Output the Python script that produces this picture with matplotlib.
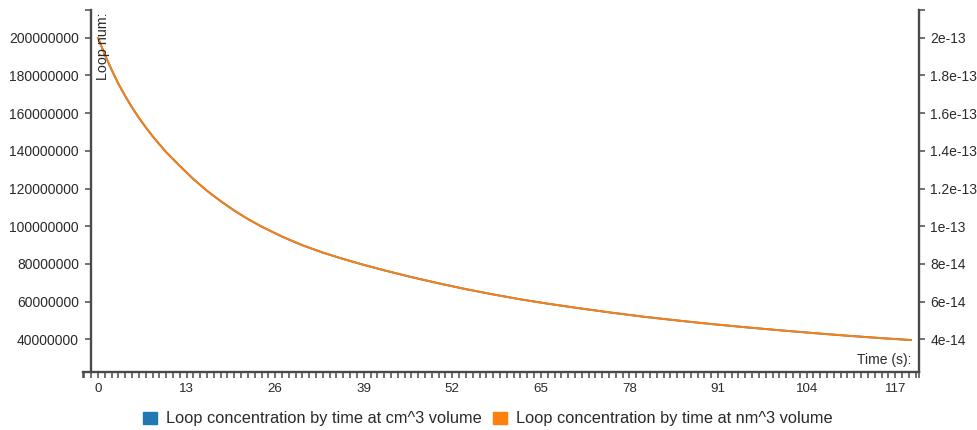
import matplotlib
matplotlib.use("Agg")
import matplotlib.pyplot as plt
from matplotlib.patches import Rectangle
from matplotlib.ticker import FixedLocator, FixedFormatter

# ---- data -------------------------------------------------------------
time_s = [0, 1, 2, 3, 4, 5, 6, 7, 8, 9, 10, 12, 14, 16, 18, 20, 22, 24,
          27, 30, 33, 36, 39, 42, 46, 50, 54, 58, 62, 66, 70, 75, 80, 85,
          90, 95, 100, 105, 110, 115, 119.3]
loops_cm3 = [200e6, 191e6, 183e6, 175.5e6, 169e6, 163e6, 157.5e6,
             152.5e6, 147.8e6, 143.5e6, 139.3e6, 132e6, 125e6, 118.8e6,
             113.3e6, 108.3e6, 103.8e6, 99.8e6, 94.5e6, 89.9e6, 86e6,
             82.6e6, 79.5e6, 76.6e6, 73e6, 69.7e6, 66.6e6, 63.8e6, 61.2e6,
             58.9e6, 56.8e6, 54.3e6, 52e6, 50e6, 48.1e6, 46.4e6, 44.8e6,
             43.3e6, 41.9e6, 40.6e6, 39.6e6]
loops_nm3 = [2.0e-13, 1.91e-13, 1.83e-13, 1.755e-13, 1.69e-13, 1.63e-13,
             1.575e-13, 1.525e-13, 1.478e-13, 1.435e-13, 1.393e-13,
             1.32e-13, 1.25e-13, 1.188e-13, 1.133e-13, 1.083e-13,
             1.038e-13, 9.98e-14, 9.45e-14, 8.99e-14, 8.6e-14, 8.26e-14,
             7.95e-14, 7.66e-14, 7.3e-14, 6.97e-14, 6.66e-14, 6.38e-14,
             6.12e-14, 5.89e-14, 5.68e-14, 5.43e-14, 5.2e-14, 5.0e-14,
             4.81e-14, 4.64e-14, 4.48e-14, 4.33e-14, 4.19e-14, 4.06e-14,
             3.96e-14]

x_tick_labels = ["0", "13", "26", "39", "52", "65", "78", "91", "104", "117"]
left_ticks = [40e6, 60e6, 80e6, 100e6, 120e6, 140e6, 160e6, 180e6, 200e6]
left_tick_labels = ["40000000", "60000000", "80000000", "100000000",
                    "120000000", "140000000", "160000000", "180000000",
                    "200000000"]
right_ticks = [4e-14, 6e-14, 8e-14, 1e-13, 1.2e-13, 1.4e-13, 1.6e-13,
               1.8e-13, 2e-13]
right_tick_labels = ["4e-14", "6e-14", "8e-14", "1e-13", "1.2e-13",
                     "1.4e-13", "1.6e-13", "1.8e-13", "2e-13"]
series_names = ["Loop concentration by time at cm^3 volume",
                "Loop concentration by time at nm^3 volume"]
series_colors = ["#1f77b4", "#ff7f0e"]

# ---- figure -----------------------------------------------------------
W, H = 977, 430
plt.rcParams["font.family"] = ["Liberation Sans", "DejaVu Sans"]
fig = plt.figure(figsize=(W / 100, H / 100), dpi=100)


def fx(px):
    return px / W


def fy(py):
    return 1 - py / H


AXIS_COLOR = "#4a4a4a"
TEXT_COLOR = "#2a2a2a"

X_MIN, X_MAX = -2.25, 120.5
Y_MIN, Y_MAX = 22.8e6, 215e6
left_px, right_px, top_px, bottom_px = 82.7, 919, 9.5, 371.7
ax = fig.add_axes([fx(left_px), fy(bottom_px),
                   fx(right_px) - fx(left_px), fy(top_px) - fy(bottom_px)])
ax.set_xlim(X_MIN, X_MAX)
ax.set_ylim(Y_MIN, Y_MAX)
ax2 = ax.twinx()
ax2.set_ylim(Y_MIN * 1e-21, Y_MAX * 1e-21)

for a in (ax, ax2):
    a.patch.set_visible(False)
    for s in a.spines.values():
        s.set_visible(False)
        s.set_color(AXIS_COLOR)
        s.set_linewidth(1.7)

ax.spines["bottom"].set_visible(True)
ax.spines["left"].set_visible(True)
ax.spines["left"].set_position(("data", -1.03))
ax2.spines["right"].set_visible(True)

TICK_LEN = 4.6
# x axis: a tick every second (plus the domain ends), a label every 13 s
ax.xaxis.set_major_locator(FixedLocator([int(v) for v in x_tick_labels]))
ax.xaxis.set_major_formatter(FixedFormatter(x_tick_labels))
ax.xaxis.set_minor_locator(FixedLocator([X_MIN] + list(range(-2, 121)) + [X_MAX]))
ax.tick_params(axis="x", which="both", direction="out", length=TICK_LEN,
               width=1.1, color=AXIS_COLOR, labelsize=9.6,
               labelcolor=TEXT_COLOR, pad=3.5)

# left axis, with an outer tick closing the top of the domain
ax.yaxis.set_major_locator(FixedLocator(left_ticks))
ax.yaxis.set_major_formatter(FixedFormatter(left_tick_labels))
ax.yaxis.set_minor_locator(FixedLocator([Y_MAX]))
ax.tick_params(axis="y", which="both", direction="out", length=TICK_LEN,
               width=1.1, color=AXIS_COLOR, labelsize=10,
               labelcolor=TEXT_COLOR, pad=4)

ax2.yaxis.set_major_locator(FixedLocator(right_ticks))
ax2.yaxis.set_major_formatter(FixedFormatter(right_tick_labels))
ax2.yaxis.set_minor_locator(FixedLocator([Y_MAX * 1e-21]))
ax2.tick_params(axis="y", which="both", direction="out", length=TICK_LEN,
                width=1.1, color=AXIS_COLOR, labelsize=10,
                labelcolor=TEXT_COLOR, pad=3.5)

# the two series share the same shape; nm^3 drawn over cm^3
ax.plot(time_s, loops_cm3, color=series_colors[0], lw=1.4,
        solid_joinstyle="round")
ax2.plot(time_s, loops_nm3, color=series_colors[1], lw=1.4,
         solid_joinstyle="round")

# axis captions
fig.text(fx(103.5), fy(12.5), "Loop num:", rotation=90, ha="center",
         va="top", fontsize=10.3, color=TEXT_COLOR)
fig.text(fx(911), fy(360), "Time (s):", ha="right", va="center",
         fontsize=10, color=TEXT_COLOR)

# legend below the chart
legend_items = [(143, 166), (493, 516)]
for (sq_x, tx), name, col in zip(legend_items, series_names, series_colors):
    fig.patches.append(Rectangle((fx(sq_x), fy(424)), 14 / W, 12 / H,
                                 transform=fig.transFigure, color=col))
    fig.text(fx(tx), fy(418.5), name, ha="left", va="center",
             fontsize=11.75, color=TEXT_COLOR)

fig.savefig("out.png", dpi=100)
